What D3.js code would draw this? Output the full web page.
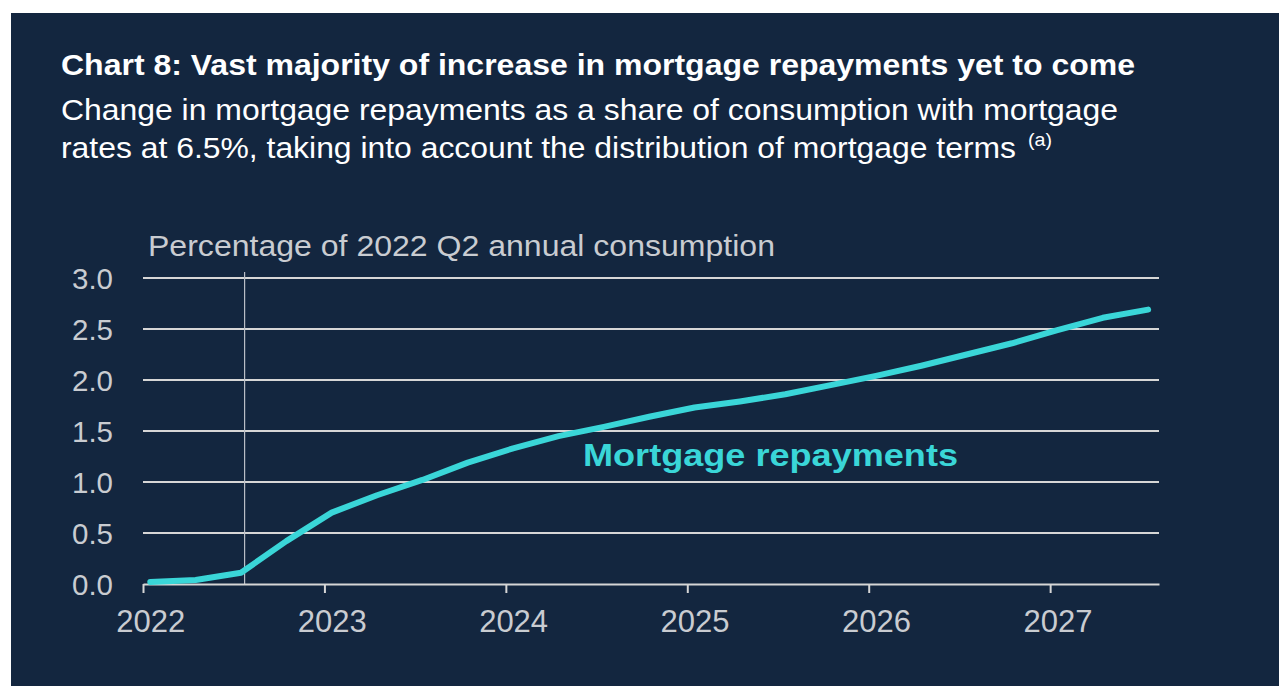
<!DOCTYPE html>
<html>
<head>
<meta charset="utf-8">
<script src="https://cdn.jsdelivr.net/npm/d3@7"></script>
<style>
  body { margin: 0; background: #ffffff; }
  svg { display: block; }
  text { font-family: "Liberation Sans", Arial, sans-serif; }
</style>
</head>
<body>
<svg id="chart" width="1279" height="686"></svg>
<script>
// quarterly data, 2022 Q1 .. 2027 Q3
let quarters = [
  '2022 Q1', '2022 Q2', '2022 Q3', '2022 Q4',
  '2023 Q1', '2023 Q2', '2023 Q3', '2023 Q4',
  '2024 Q1', '2024 Q2', '2024 Q3', '2024 Q4',
  '2025 Q1', '2025 Q2', '2025 Q3', '2025 Q4',
  '2026 Q1', '2026 Q2', '2026 Q3', '2026 Q4',
  '2027 Q1', '2027 Q2', '2027 Q3'
];
let repayments = [
  0.02, 0.04, 0.11, 0.42,
  0.70, 0.87, 1.02, 1.19,
  1.33, 1.45, 1.54, 1.64,
  1.73, 1.79, 1.86, 1.95,
  2.04, 2.14, 2.25, 2.36,
  2.49, 2.61, 2.69
];
let yearTicks = [2022, 2023, 2024, 2025, 2026, 2027];
let yTicks = [0.0, 0.5, 1.0, 1.5, 2.0, 2.5, 3.0];
let markerQuarter = 2022.56; // thin vertical line

let title = 'Chart 8: Vast majority of increase in mortgage repayments yet to come';
let subtitle = [
  'Change in mortgage repayments as a share of consumption with mortgage',
  'rates at 6.5%, taking into account the distribution of mortgage terms'
];
let footnoteMark = '(a)';
let unitLabel = 'Percentage of 2022 Q2 annual consumption';
let seriesLabel = 'Mortgage repayments';

let bg = '#13263f';
let cyan = '#3ad6d8';
let grey = '#d6d6d6';
let textGrey = '#c9ccd1';

let svg = d3.select('#chart');

// dark panel
svg.append('rect')
  .attr('x', 11).attr('y', 13)
  .attr('width', 1279 - 11).attr('height', 686 - 13)
  .attr('fill', bg);

// headline text, stretched to the widths in the original
let addText = (str, xPos, yPos, size, width, opts) => {
  let t = svg.append('text')
    .attr('x', xPos).attr('y', yPos)
    .attr('fill', opts.fill || '#ffffff')
    .attr('font-size', size)
    .attr('font-weight', opts.bold ? 'bold' : 'normal')
    .text(str);
  if (width) {
    t.attr('textLength', width).attr('lengthAdjust', 'spacingAndGlyphs');
  }
  return t;
};

addText(title, 61, 75, 29, 1074, { bold: true });
addText(subtitle[0], 61, 120, 29, 1057, {});
addText(subtitle[1], 61, 158, 29, 955, {});
addText(footnoteMark, 1028, 146, 18, 24, {});

// scales
let x = d3.scaleLinear().domain([2022, 2027.6]).range([143, 1159]);
let y = d3.scaleLinear().domain([0, 3]).range([584, 278]);

let qx = (q) => {
  let parts = q.split(' Q');
  return +parts[0] + (+parts[1] - 1) / 4 + 0.04;
};

// gridlines
svg.append('g')
  .selectAll('line')
  .data(yTicks.filter((d) => d > 0))
  .enter()
  .append('line')
  .attr('x1', x(2022)).attr('x2', x(2027.6))
  .attr('y1', (d) => y(d)).attr('y2', (d) => y(d))
  .attr('stroke', grey)
  .attr('stroke-width', 2);

// y axis labels (no axis line)
let yAxis = svg.append('g')
  .attr('transform', 'translate(113,0)')
  .call(d3.axisLeft(y).tickValues(yTicks).tickFormat(d3.format('.1f')).tickSize(0).tickPadding(0));
yAxis.select('.domain').remove();
yAxis.selectAll('text')
  .attr('fill', textGrey)
  .attr('font-size', 29.5)
  .attr('font-family', '"Liberation Sans", Arial, sans-serif')
  .attr('dy', '0.36em');

// unit label
addText(unitLabel, 148, 256, 29, 627, { fill: textGrey });

// vertical marker line
svg.append('line')
  .attr('x1', x(markerQuarter)).attr('x2', x(markerQuarter))
  .attr('y1', 272).attr('y2', y(0))
  .attr('stroke', '#b9bec6')
  .attr('stroke-width', 1.2);

// x axis
let xAxis = svg.append('g')
  .attr('transform', 'translate(0,' + y(0) + ')')
  .call(d3.axisBottom(x).tickValues(yearTicks).tickFormat(d3.format('d')).tickSizeInner(9).tickSizeOuter(0).tickPadding(17));
xAxis.select('.domain')
  .attr('stroke', grey)
  .attr('stroke-width', 2);
xAxis.selectAll('.tick line')
  .attr('stroke', grey)
  .attr('stroke-width', 2);
xAxis.selectAll('.tick text')
  .attr('fill', textGrey)
  .attr('font-size', 31)
  .attr('font-family', '"Liberation Sans", Arial, sans-serif')
  .attr('dx', x(2022.04) - x(2022));

// series line
let lineGen = d3.line()
  .x((d, i) => x(qx(quarters[i])))
  .y((d) => y(d));

svg.append('path')
  .datum(repayments)
  .attr('d', lineGen)
  .attr('fill', 'none')
  .attr('stroke', cyan)
  .attr('stroke-width', 6)
  .attr('stroke-linecap', 'round')
  .attr('stroke-linejoin', 'round');

// series label
addText(seriesLabel, 583, 466, 32, 375, { fill: cyan, bold: true });
</script>
</body>
</html>
